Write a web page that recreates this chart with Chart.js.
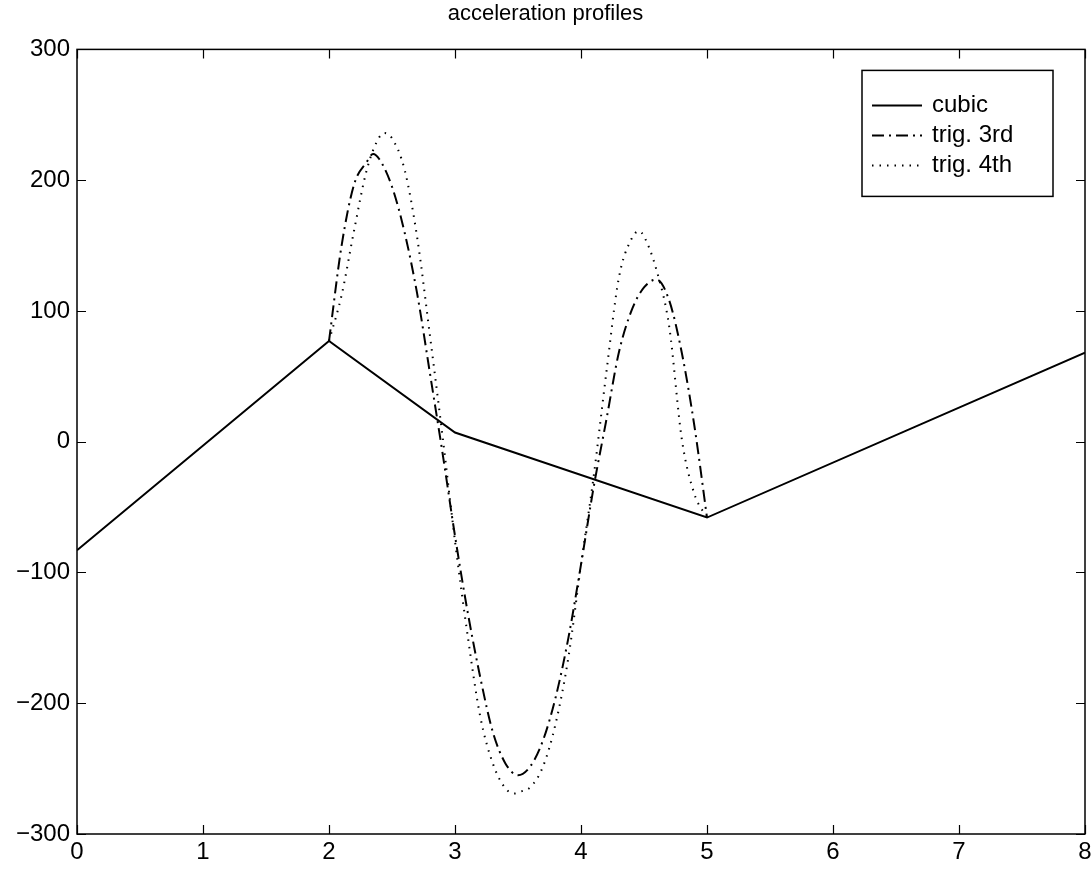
<!DOCTYPE html>
<html><head><meta charset="utf-8">
<script src="https://cdn.jsdelivr.net/npm/chart.js@4.4.1/dist/chart.umd.min.js"></script>
<style>html,body{margin:0;padding:0;background:#fff;} #wrap{width:1091px;height:872px;position:relative;}</style>
</head><body><div id="wrap"><canvas id="c" width="1091" height="872"></canvas></div>
<script>
const chartTitle = 'acceleration profiles';
const seriesNames = ['cubic', 'trig. 3rd', 'trig. 4th'];

const cubicX = [0, 2, 3, 5, 8];
const cubicY = [-83, 77, 7, -58, 68];

const trig3X = [2.0, 2.1, 2.2, 2.3, 2.35, 2.4, 2.5, 2.6, 2.7, 2.8, 2.9, 3.0, 3.1, 3.2, 3.3, 3.4, 3.5, 3.6, 3.7, 3.8, 3.9, 4.0, 4.1, 4.2, 4.3, 4.4, 4.5, 4.6, 4.7, 4.8, 4.9, 5.0];
const trig3Y = [77, 150, 197, 214, 220, 216, 195, 160, 113, 53, -8, -72, -130, -180, -222, -246, -255, -248, -228, -195, -150, -94, -35, 16, 68, 100, 118, 124, 108, 68, 12, -58];

const trig4X = [2.0, 2.1, 2.2, 2.3, 2.4, 2.44, 2.5, 2.6, 2.7, 2.8, 2.9, 3.0, 3.1, 3.2, 3.3, 3.4, 3.47, 3.5, 3.6, 3.7, 3.8, 3.9, 4.0, 4.1, 4.2, 4.3, 4.4, 4.46, 4.5, 4.6, 4.7, 4.8, 4.9, 5.0];
const trig4Y = [77, 112, 162, 208, 233, 236, 232, 208, 156, 82, 5, -76, -148, -210, -246, -265, -269, -268, -264, -248, -215, -165, -94, -27, 52, 125, 155, 161, 157, 131, 88, 2, -40, -58];

const xTicks = [0, 1, 2, 3, 4, 5, 6, 7, 8];
const yTicks = [-300, -200, -100, 0, 100, 200, 300];

const FONT = "'Liberation Sans', Arial, Helvetica, sans-serif";

function pts(xs, ys) { return xs.map((x, i) => ({ x: x, y: ys[i] })); }

const frame = {
  id: 'frame',
  afterDatasetsDraw(chart) {
    const { ctx, chartArea: a, scales: { x, y } } = chart;
    ctx.save();
    ctx.strokeStyle = '#000';
    ctx.lineWidth = 1.5;
    ctx.setLineDash([]);
    ctx.strokeRect(a.left, a.top, a.right - a.left, a.bottom - a.top);
    const tl = 9;
    ctx.beginPath();
    xTicks.forEach(v => {
      const px = Math.round(x.getPixelForValue(v)) + 0.5;
      ctx.moveTo(px, a.bottom); ctx.lineTo(px, a.bottom - tl);
      ctx.moveTo(px, a.top); ctx.lineTo(px, a.top + tl);
    });
    yTicks.forEach(v => {
      const py = Math.round(y.getPixelForValue(v)) + 0.5;
      ctx.moveTo(a.left, py); ctx.lineTo(a.left + tl, py);
      ctx.moveTo(a.right, py); ctx.lineTo(a.right - tl, py);
    });
    ctx.lineWidth = 1.2;
    ctx.stroke();

    // legend box
    const bw = 191, bh = 126;
    const bx = a.right - 32 - bw, by = a.top + 21;
    ctx.fillStyle = '#fff';
    ctx.fillRect(bx, by, bw, bh);
    ctx.lineWidth = 1.5;
    ctx.strokeRect(bx, by, bw, bh);
    ctx.font = '24px ' + FONT;
    ctx.textBaseline = 'middle';
    ctx.fillStyle = '#000';
    chart.data.datasets.forEach((ds, i) => {
      const ry = by + 35 + i * 30;
      ctx.beginPath();
      ctx.setLineDash(ds.borderDash || []);
      ctx.lineWidth = ds.borderWidth;
      ctx.lineCap = 'butt';
      ctx.moveTo(bx + 10, ry); ctx.lineTo(bx + 60, ry);
      ctx.stroke();
      ctx.setLineDash([]);
      ctx.fillText(ds.label, bx + 70, ry);
    });
    ctx.restore();
  }
};

new Chart(document.getElementById('c'), {
  type: 'line',
  data: {
    datasets: [
      { label: seriesNames[0], data: pts(cubicX, cubicY), borderColor: '#000', borderWidth: 2, pointRadius: 0, tension: 0, fill: false },
      { label: seriesNames[1], data: pts(trig3X, trig3Y), borderColor: '#000', borderWidth: 2, borderDash: [12, 5, 2, 5], pointRadius: 0, cubicInterpolationMode: 'monotone', fill: false },
      { label: seriesNames[2], data: pts(trig4X, trig4Y), borderColor: '#000', borderWidth: 2, borderDash: [1.5, 6], pointRadius: 0, cubicInterpolationMode: 'monotone', fill: false }
    ]
  },
  options: {
    responsive: false,
    animation: false,
    devicePixelRatio: 1,
    layout: { padding: { left: 0, right: 0, top: 0, bottom: 0 } },
    plugins: {
      legend: { display: false },
      tooltip: { enabled: false },
      title: {
        display: true, text: chartTitle, color: '#000',
        font: { family: FONT, size: 22, weight: 'normal' },
        padding: { top: 1, bottom: 22 }
      }
    },
    scales: {
      x: {
        type: 'linear', min: 0, max: 8,
        afterBuildTicks(s) { s.ticks = xTicks.map(v => ({ value: v })); },
        afterFit(s) { s.height = 38; s.paddingRight = 6; },
        ticks: { color: '#000', font: { family: FONT, size: 24 }, padding: 4, maxRotation: 0, autoSkip: false },
        grid: { display: false, drawTicks: false },
        border: { display: false }
      },
      y: {
        type: 'linear', min: -300, max: 300,
        afterBuildTicks(s) { s.ticks = yTicks.map(v => ({ value: v })); },
        afterFit(s) { s.width = 77; },
        ticks: { color: '#000', font: { family: FONT, size: 24 }, padding: 7,
          callback: v => String(v).replace('-', '\u2212') },
        grid: { display: false, drawTicks: false },
        border: { display: false }
      }
    }
  },
  plugins: [frame]
});
</script></body></html>
